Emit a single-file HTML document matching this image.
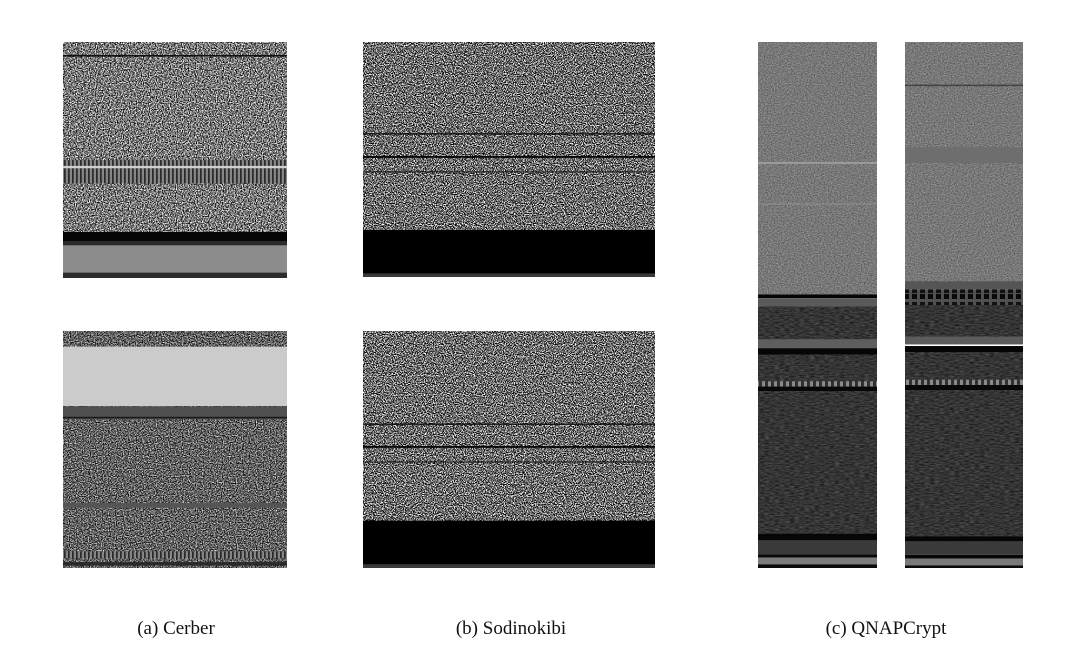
<!DOCTYPE html>
<html><head><meta charset="utf-8">
<style>
html,body{margin:0;padding:0;background:#fff;}
svg{display:block;}
text{font-family:"Liberation Serif","Noto Serif CJK SC",serif;}
</style></head>
<body>
<svg id="fig" width="1076" height="662" viewBox="0 0 1076 662">
<defs>
  <filter id="nA" x="0" y="0" width="1" height="1" color-interpolation-filters="sRGB">
    <feTurbulence type="fractalNoise" baseFrequency="0.85" numOctaves="2" seed="3"/>
    <feColorMatrix type="matrix" values="2.6 0 0 0 -0.83  2.6 0 0 0 -0.83  2.6 0 0 0 -0.83  0 0 0 0 1"/>
  </filter>
  <filter id="nS" x="0" y="0" width="1" height="1" color-interpolation-filters="sRGB">
    <feTurbulence type="fractalNoise" baseFrequency="0.9" numOctaves="2" seed="7"/>
    <feColorMatrix type="matrix" values="3.8 0 0 0 -1.5  3.8 0 0 0 -1.5  3.8 0 0 0 -1.5  0 0 0 0 1"/>
  </filter>
  <filter id="nB" x="0" y="0" width="1" height="1" color-interpolation-filters="sRGB">
    <feTurbulence type="fractalNoise" baseFrequency="0.85" numOctaves="2" seed="11"/>
    <feColorMatrix type="matrix" values="2.0 0 0 0 -0.62  2.0 0 0 0 -0.62  2.0 0 0 0 -0.62  0 0 0 0 1"/>
  </filter>
  <filter id="nQ" x="0" y="0" width="1" height="1" color-interpolation-filters="sRGB">
    <feTurbulence type="fractalNoise" baseFrequency="0.7 0.9" numOctaves="2" seed="5"/>
    <feColorMatrix type="matrix" values="0.5 0 0 0 0.22  0.5 0 0 0 0.22  0.5 0 0 0 0.22  0 0 0 0 1"/>
  </filter>
  <filter id="nD" x="0" y="0" width="1" height="1" color-interpolation-filters="sRGB">
    <feTurbulence type="fractalNoise" baseFrequency="0.2 0.9" numOctaves="2" seed="9"/>
    <feColorMatrix type="matrix" values="0.35 0 0 0 0.03  0.35 0 0 0 0.03  0.35 0 0 0 0.03  0 0 0 0 1"/>
  </filter>
  <pattern id="stripeV" width="4" height="10" patternUnits="userSpaceOnUse">
    <rect width="4" height="10" fill="#5a5a5a"/><rect width="1.5" height="10" fill="#2a2a2a"/><rect x="2.5" width="1" height="10" fill="#b0b0b0"/>
  </pattern>
  <pattern id="checker" width="8" height="14" patternUnits="userSpaceOnUse">
    <rect width="8" height="14" fill="#505050"/><rect width="5" height="5" fill="#0a0a0a"/><rect y="8" width="5" height="5" fill="#111"/>
  </pattern>
  <pattern id="dots" width="6" height="4" patternUnits="userSpaceOnUse">
    <rect width="6" height="4" fill="#303030"/><rect width="3" height="4" fill="#8a8a8a"/>
  </pattern>
</defs>
<g id="panels"></g>
<text x="176" y="634" font-size="19" text-anchor="middle" fill="#111">(a) Cerber</text>
<text x="511" y="634" font-size="19" text-anchor="middle" fill="#111">(b) Sodinokibi</text>
<text x="886" y="634" font-size="19" text-anchor="middle" fill="#111">(c) QNAPCrypt</text>
<text x="540" y="678" font-size="17" text-anchor="middle" fill="#222">图 1　三种勒索软件家族的灰度图像</text>
</svg>
<script>
// panel names and pixel frames
const panelNames = ['cerber-top','cerber-bottom','sodinokibi-top','sodinokibi-bottom','qnap-left','qnap-right'];
// bands: [startFraction, endFraction, fill]
const bandsCerberTop = [[0,0.805,'nA'],[0.055,0.062,'#111'],[0.5,0.6,'stripeV'],[0.525,0.535,'#cfcfcf'],[0.805,0.845,'#050505'],[0.845,0.862,'#2a2a2a'],[0.862,0.977,'#8c8c8c'],[0.977,1,'#2c2c2c']];
const bandsCerberBottom = [[0,0.066,'nB'],[0.066,0.318,'#cbcbcb'],[0.318,1,'nB'],[0.318,0.372,'#505050'],[0.362,0.369,'#1a1a1a'],[0.725,0.745,'#555555'],[0.93,0.96,'stripeV'],[0.975,0.99,'#2a2a2a']];
const bandsSodTop = [[0,0.8,'nS'],[0.388,0.394,'#111'],[0.485,0.493,'#080808'],[0.55,0.555,'#222'],[0.8,0.985,'#000'],[0.985,1,'#3a3a3a']];
const bandsSodBottom = [[0,0.8,'nS'],[0.39,0.396,'#111'],[0.485,0.493,'#080808'],[0.55,0.555,'#222'],[0.8,0.985,'#000'],[0.985,1,'#3a3a3a']];
const bandsQLeft = [[0,0.48,'nQ'],[0.228,0.232,'#9a9a9a'],[0.307,0.309,'#8e8e8e'],[0.48,0.487,'#050505'],[0.487,0.503,'#5a5a5a'],[0.503,0.565,'nD'],[0.565,0.582,'#5e5e5e'],[0.582,0.595,'#060606'],[0.595,0.645,'nD'],[0.645,0.655,'dots'],[0.655,0.664,'#080808'],[0.664,0.935,'nD'],[0.935,0.948,'#060606'],[0.948,0.974,'#3a3a3a'],[0.974,0.98,'#080808'],[0.98,0.993,'#7c7c7c'],[0.993,1,'#0a0a0a']];
const bandsQRight = [[0,0.455,'nQ'],[0.081,0.084,'#444'],[0.2,0.23,'#6e6e6e'],[0.455,0.47,'#555'],[0.47,0.5,'checker'],[0.5,0.56,'nD'],[0.56,0.575,'#5c5c5c'],[0.578,0.59,'#050505'],[0.59,0.642,'nD'],[0.642,0.652,'dots'],[0.652,0.662,'#080808'],[0.662,0.94,'nD'],[0.94,0.95,'#060606'],[0.95,0.975,'#3a3a3a'],[0.975,0.982,'#080808'],[0.982,0.995,'#7a7a7a'],[0.995,1,'#0a0a0a']];
const allBands = [bandsCerberTop,bandsCerberBottom,bandsSodTop,bandsSodBottom,bandsQLeft,bandsQRight];
const frames = [[63,42,224,236],[63,331,224,237],[363,42,292,235],[363,331,292,237],[758,42,119,526],[905,42,118,526]];
const NS='http://www.w3.org/2000/svg';
const g=document.getElementById('panels');
frames.forEach((f,i)=>{
  const pg=document.createElementNS(NS,'g');
  
  
  g.appendChild(pg);
  allBands[i].forEach((b,j)=>{
    const y0=f[1]+b[0]*f[3], y1=f[1]+b[1]*f[3];
    const r=document.createElementNS(NS,'rect');
    r.setAttribute('x',f[0]); r.setAttribute('y',y0.toFixed(2));
    r.setAttribute('width',f[2]); r.setAttribute('height',Math.max(0.5,y1-y0).toFixed(2));
    const fill=b[2];
    if(fill[0]==='#'){ r.setAttribute('fill',fill); }
    else if(fill==='stripeV'||fill==='checker'||fill==='dots'){ r.setAttribute('fill','url(#'+fill+')'); }
    else { r.setAttribute('fill','#777'); r.setAttribute('filter','url(#'+fill+')'); }
    
    
    pg.appendChild(r);
  });
});
</script>
</body></html>
